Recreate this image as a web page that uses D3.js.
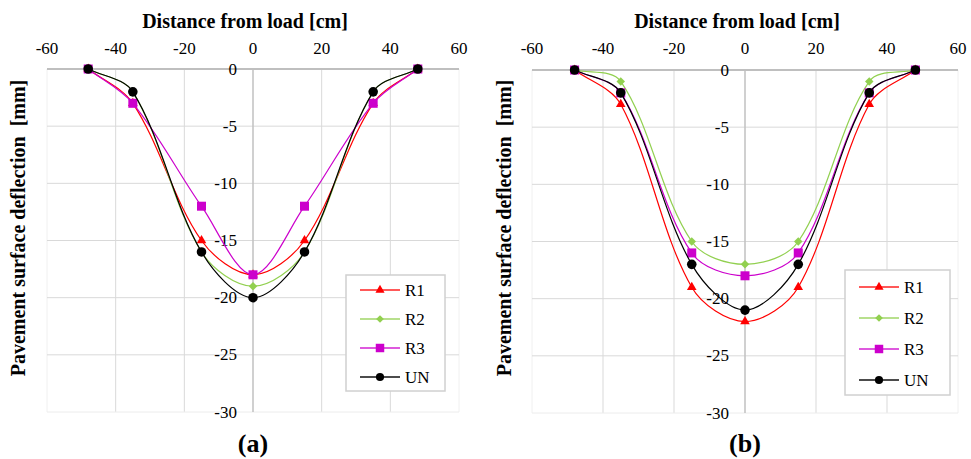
<!DOCTYPE html>
<html>
<head>
<meta charset="utf-8">
<script src="https://cdn.jsdelivr.net/npm/d3@7"></script>
<style>
    body { margin: 0; background: #fff; }
    svg { display: block; }
    svg text { font-family: "Liberation Serif", "Times New Roman", Tinos, "DejaVu Serif", serif; }
</style>
</head>
<body>
<svg width="971" height="459"></svg>
<script>
// distance from load [cm]
const distance = [-48, -35, -15, 0, 15, 35, 48];
const xTicks = [-60, -40, -20, 0, 20, 40, 60];
const yTicks = [0, -5, -10, -15, -20, -25, -30];
const seriesNames = ["R1", "R2", "R3", "UN"];

// panel (a) deflection [mm]
const a_R1 = [0, -3, -15, -18, -15, -3, 0];
const a_R2 = [0, -2, -16, -19, -16, -2, 0];
const a_R3 = [0, -3, -12, -18, -12, -3, 0];
const a_UN = [0, -2, -16, -20, -16, -2, 0];

// panel (b) deflection [mm]
const b_R1 = [0, -3, -19, -22, -19, -3, 0];
const b_R2 = [0, -1, -15, -17, -15, -1, 0];
const b_R3 = [0, -2, -16, -18, -16, -2, 0];
const b_UN = [0, -2, -17, -21, -17, -2, 0];

const styles = {
    R1: { color: "#ff0000", symbol: d3.symbolTriangle, size: 40, legendSize: 36 },
    R2: { color: "#92d050", symbol: d3.symbolSquare, size: 36, legendSize: 30, rotate: 45 },
    R3: { color: "#cc00cc", symbol: d3.symbolSquare, size: 81, legendSize: 72 },
    UN: { color: "#000000", symbol: d3.symbolCircle, size: 72, legendSize: 52 }
};

const svg = d3.select("svg");

// excel-like smoothed line (chord weighted bezier)
function smoothPath(pts) {
    const p = d3.path();
    const n = pts.length;
    const dist = (a, b) => Math.hypot(b[0] - a[0], b[1] - a[1]);
    p.moveTo(pts[0][0], pts[0][1]);
    for (let i = 0; i < n - 1; i++) {
        const p0 = pts[Math.max(i - 1, 0)], p1 = pts[i], p2 = pts[i + 1], p3 = pts[Math.min(i + 2, n - 1)];
        const d01 = dist(p0, p1), d12 = dist(p1, p2), d23 = dist(p2, p3);
        const f1 = d12 / (d01 + d12) / 3;
        const f2 = d12 / (d12 + d23) / 3;
        p.bezierCurveTo(
            p1[0] + (p2[0] - p0[0]) * f1, p1[1] + (p2[1] - p0[1]) * f1,
            p2[0] - (p3[0] - p1[0]) * f2, p2[1] - (p3[1] - p1[1]) * f2,
            p2[0], p2[1]);
    }
    return p.toString();
}

function drawPanel(cfg) {
    const g = svg.append("g");
    const x = d3.scaleLinear().domain([-60, 60]).range([cfg.left, cfg.right]);
    const y = d3.scaleLinear().domain([0, -30]).range([cfg.top, cfg.bottom]);

    // vertical grid
    g.selectAll(".vgrid")
        .data(xTicks.filter(d => d !== 0))
        .enter()
        .append("line")
        .attr("x1", d => x(d)).attr("x2", d => x(d))
        .attr("y1", y(0)).attr("y2", y(-30))
        .attr("stroke", d => Math.abs(d) === 60 ? "#f0f0f0" : "#d9d9d9")
        .attr("stroke-width", 1);

    // horizontal grid
    g.selectAll(".hgrid")
        .data(yTicks.filter(d => d !== 0))
        .enter()
        .append("line")
        .attr("x1", x(-60)).attr("x2", x(60))
        .attr("y1", d => y(d)).attr("y2", d => y(d))
        .attr("stroke", d => d === -30 ? "#ececec" : "#d9d9d9")
        .attr("stroke-width", 1);

    // axes lines
    g.append("line")
        .attr("x1", x(0)).attr("x2", x(0))
        .attr("y1", y(0)).attr("y2", y(-30))
        .attr("stroke", "#c0c0c0").attr("stroke-width", 1.5);
    g.append("line")
        .attr("x1", x(-60)).attr("x2", x(60))
        .attr("y1", y(0)).attr("y2", y(0))
        .attr("stroke", "#bfbfbf").attr("stroke-width", 2);

    // x tick labels (top)
    g.selectAll(".xlab")
        .data(xTicks)
        .enter()
        .append("text")
        .attr("x", d => x(d))
        .attr("y", 54)
        .attr("text-anchor", "middle")
        .attr("font-size", 17)
        .text(d => d);

    // y tick labels next to vertical axis
    g.selectAll(".ylab")
        .data(yTicks)
        .enter()
        .append("text")
        .attr("x", x(0) - 16)
        .attr("y", d => y(d))
        .attr("dy", "0.33em")
        .attr("text-anchor", "end")
        .attr("font-size", 17)
        .text(d => d);

    // axis titles
    g.append("text")
        .attr("x", cfg.titleX)
        .attr("y", 28)
        .attr("text-anchor", "middle")
        .attr("font-size", 20)
        .attr("font-weight", "bold")
        .text("Distance from load [cm]");
    g.append("text")
        .attr("transform", `translate(${cfg.yTitleX},228) rotate(-90)`)
        .attr("text-anchor", "middle")
        .attr("font-size", 20)
        .attr("font-weight", "bold")
        .style("white-space", "pre")
        .text("Pavement surface deflection  [mm]");

    cfg.series.forEach((vals, k) => {
        const st = styles[seriesNames[k]];
        const pts = vals.map((d, i) => [x(distance[i]), y(d)]);
        g.append("path")
            .attr("d", smoothPath(pts))
            .attr("fill", "none")
            .attr("stroke", st.color)
            .attr("stroke-width", 1.2);
        g.selectAll(".m" + k)
            .data(vals)
            .enter()
            .append("path")
            .attr("d", d3.symbol().type(st.symbol).size(st.size))
            .attr("transform", (d, i) => `translate(${x(distance[i])},${y(d)})` + (st.rotate ? ` rotate(${st.rotate})` : ""))
            .attr("fill", st.color);
    });

    // legend
    const lg = g.append("g").attr("transform", `translate(${cfg.legX},${cfg.legY})`);
    lg.append("rect")
        .attr("width", cfg.legW).attr("height", cfg.legH)
        .attr("fill", "#fff")
        .attr("stroke", "#d0d0d0")
        .attr("stroke-width", 1.5);
    seriesNames.forEach((name, k) => {
        const st = styles[name];
        const ly = cfg.legFirst + k * cfg.legStep;
        lg.append("line")
            .attr("x1", 14).attr("x2", 54)
            .attr("y1", ly).attr("y2", ly)
            .attr("stroke", st.color)
            .attr("stroke-opacity", name === "UN" ? 0.7 : 0.65)
            .attr("stroke-width", 2);
        lg.append("path")
            .attr("d", d3.symbol().type(st.symbol).size(st.legendSize))
            .attr("transform", `translate(34,${ly})` + (st.rotate ? ` rotate(${st.rotate})` : ""))
            .attr("fill", st.color);
        lg.append("text")
            .attr("x", 59)
            .attr("y", ly)
            .attr("dy", "0.35em")
            .attr("font-size", 17)
            .text(name);
    });

    // panel label
    g.append("text")
        .attr("x", x(0))
        .attr("y", 452)
        .attr("text-anchor", "middle")
        .attr("font-size", 26)
        .attr("font-weight", "bold")
        .text(cfg.label);
}

drawPanel({
    left: 47, right: 459, top: 69, bottom: 412,
    titleX: 245, yTitleX: 25,
    legX: 346, legY: 275, legW: 99, legH: 116, legFirst: 15, legStep: 29,
    series: [a_R1, a_R2, a_R3, a_UN],
    label: "(a)"
});

drawPanel({
    left: 532, right: 958, top: 70, bottom: 413,
    titleX: 737, yTitleX: 511,
    legX: 845, legY: 270, legW: 105, legH: 125, legFirst: 17, legStep: 31,
    series: [b_R1, b_R2, b_R3, b_UN],
    label: "(b)"
});
</script>
</body>
</html>
